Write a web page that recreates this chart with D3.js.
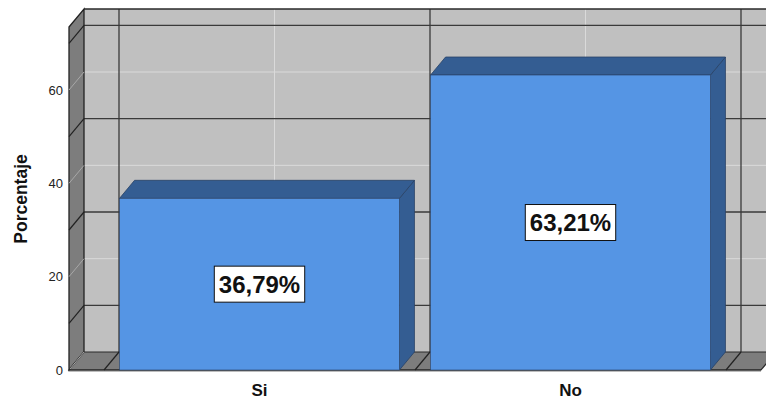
<!DOCTYPE html>
<html><head><meta charset="utf-8">
<script src="https://cdn.jsdelivr.net/npm/d3@7"></script>
<style>body{margin:0;background:#fff}svg{display:block}</style>
</head><body>
<svg id="c" width="766" height="400"></svg>
<script>
const categories = ["Si", "No"];
const values = [36.79, 63.21];
const yTicks = [0, 20, 40, 60];
const darkGrid = [10, 30, 50, 70];
const yMax = 73.5;
const axisTitle = "Porcentaje";

const svg = d3.select("#c");
const DX = 15, DY = 18;
const FX0 = 69, FX1 = 761, Y0 = 370;
const y = d3.scaleLinear().domain([0, 60]).range([Y0, 90]);
const x = d3.scaleBand().domain(categories).range([104, 726]);
const bw = x.bandwidth() * 0.9;
const font = "'Liberation Sans', Arial, sans-serif";

const yTop = y(yMax);
// back wall
svg.append("rect").attr("x", FX0 + DX).attr("y", yTop - DY).attr("width", 800).attr("height", Y0 - yTop)
  .attr("fill", "#c0c0c0");
// light gridlines on back wall
yTicks.filter(t => t > 0).forEach(t => {
  svg.append("line").attr("x1", FX0 + DX).attr("x2", 800).attr("y1", y(t) - DY).attr("y2", y(t) - DY)
    .attr("stroke", "#dadada").attr("stroke-width", 1);
});
// light vertical at category centers
categories.forEach(c => {
  const cx = x(c) + x.bandwidth() / 2 + DX;
  svg.append("line").attr("x1", cx).attr("x2", cx).attr("y1", yTop - DY).attr("y2", Y0 - DY)
    .attr("stroke", "#dadada");
});
// dark gridlines on back wall
darkGrid.forEach(t => {
  svg.append("line").attr("x1", FX0 + DX).attr("x2", 800).attr("y1", y(t) - DY).attr("y2", y(t) - DY)
    .attr("stroke", "#3a3a3a").attr("stroke-width", 1.3);
});
// dark verticals at category boundaries
const bounds = categories.map(c => x(c)).concat([x(categories[categories.length - 1]) + x.bandwidth()]);
bounds.forEach(b => {
  svg.append("line").attr("x1", b + DX).attr("x2", b + DX).attr("y1", yTop - DY).attr("y2", Y0 - DY)
    .attr("stroke", "#3a3a3a").attr("stroke-width", 1.3);
});
// back wall top border
svg.append("line").attr("x1", FX0 + DX).attr("x2", 800).attr("y1", yTop - DY).attr("y2", yTop - DY)
  .attr("stroke", "#2a2a2a").attr("stroke-width", 1.5);

// left wall
svg.append("polygon")
  .attr("points", [[FX0, yTop], [FX0 + DX, yTop - DY], [FX0 + DX, Y0 - DY], [FX0, Y0]].map(p => p.join(",")).join(" "))
  .attr("fill", "#7d7d7d").attr("stroke", "#222").attr("stroke-width", 1.3);
yTicks.filter(t => t > 0).forEach(t => {
  svg.append("line").attr("x1", FX0).attr("y1", y(t)).attr("x2", FX0 + DX).attr("y2", y(t) - DY)
    .attr("stroke", "#a8a8a8");
});
darkGrid.forEach(t => {
  svg.append("line").attr("x1", FX0).attr("y1", y(t)).attr("x2", FX0 + DX).attr("y2", y(t) - DY)
    .attr("stroke", "#222").attr("stroke-width", 1.2);
});
// floor
svg.append("polygon")
  .attr("points", [[FX0, Y0], [FX0 + DX, Y0 - DY], [FX1 + DX, Y0 - DY], [FX1, Y0]].map(p => p.join(",")).join(" "))
  .attr("fill", "#7d7d7d").attr("stroke", "#2a2a2a").attr("stroke-width", 1.2);
svg.append("line").attr("x1", FX0 + 1).attr("y1", Y0 - 1).attr("x2", FX0 + DX).attr("y2", Y0 - DY)
  .attr("stroke", "#a8a8a8");
bounds.forEach(b => {
  svg.append("line").attr("x1", b).attr("y1", Y0).attr("x2", b + DX).attr("y2", Y0 - DY)
    .attr("stroke", "#222").attr("stroke-width", 1.2);
});
svg.append("line").attr("x1", FX0).attr("x2", FX1).attr("y1", Y0 + 1.5).attr("y2", Y0 + 1.5)
  .attr("stroke", "#bdbdbd");
svg.append("line").attr("x1", FX0).attr("x2", FX1).attr("y1", Y0).attr("y2", Y0)
  .attr("stroke", "#222").attr("stroke-width", 1.2);

// bars
const data = categories.map((c, i) => ({ c, v: values[i] }));
const fmt = v => d3.format(".2f")(v).replace(".", ",") + "%";
data.forEach(d => {
  const x0 = x(d.c) + (x.bandwidth() - bw) / 2, x1 = x0 + bw, yt = y(d.v);
  const g = svg.append("g");
  g.append("polygon").attr("points", [[x1, yt], [x1 + DX, yt - DY], [x1 + DX, Y0 - DY], [x1, Y0]].map(p => p.join(",")).join(" "))
    .attr("fill", "#345d92").attr("stroke", "#2a4266").attr("stroke-width", 0.8);
  g.append("polygon").attr("points", [[x0, yt], [x0 + DX, yt - DY], [x1 + DX, yt - DY], [x1, yt]].map(p => p.join(",")).join(" "))
    .attr("fill", "#345d92").attr("stroke", "#2a4266").attr("stroke-width", 0.8);
  g.append("rect").attr("x", x0).attr("y", yt).attr("width", bw).attr("height", Y0 - yt)
    .attr("fill", "#5595e4").attr("stroke", "#2a4266").attr("stroke-width", 0.6);
  const cx = x0 + bw / 2, cy = (yt + Y0) / 2;
  const lg = svg.append("g");
  const rect = lg.append("rect").attr("fill", "#fff").attr("stroke", "#111").attr("stroke-width", 1);
  const t = lg.append("text").attr("x", cx).attr("y", cy).attr("text-anchor", "middle").attr("dominant-baseline", "central")
    .attr("font-family", font).attr("font-weight", "bold").attr("font-size", 24).attr("fill", "#111").text(fmt(d.v));
  const bb = t.node().getBBox();
  rect.attr("x", cx - bb.width / 2 - 4.5).attr("y", cy - 18).attr("width", bb.width + 9).attr("height", 36);
});

// y tick labels
yTicks.forEach(t => {
  svg.append("text").attr("x", 63).attr("y", y(t)).attr("text-anchor", "end").attr("dominant-baseline", "central")
    .attr("font-family", font).attr("font-size", 13).attr("fill", "#222").text(t);
});
// x labels
categories.forEach(c => {
  svg.append("text").attr("x", x(c) + x.bandwidth() / 2).attr("y", 390).attr("text-anchor", "middle")
    .attr("dominant-baseline", "central").attr("font-family", font).attr("font-weight", "bold")
    .attr("font-size", 17).attr("fill", "#111").text(c);
});
// y title
svg.append("text").attr("transform", "translate(21,199) rotate(-90)").attr("text-anchor", "middle")
  .attr("dominant-baseline", "central").attr("font-family", font).attr("font-weight", "bold")
  .attr("font-size", 17.5).attr("fill", "#111").text(axisTitle);
</script>
</body></html>
